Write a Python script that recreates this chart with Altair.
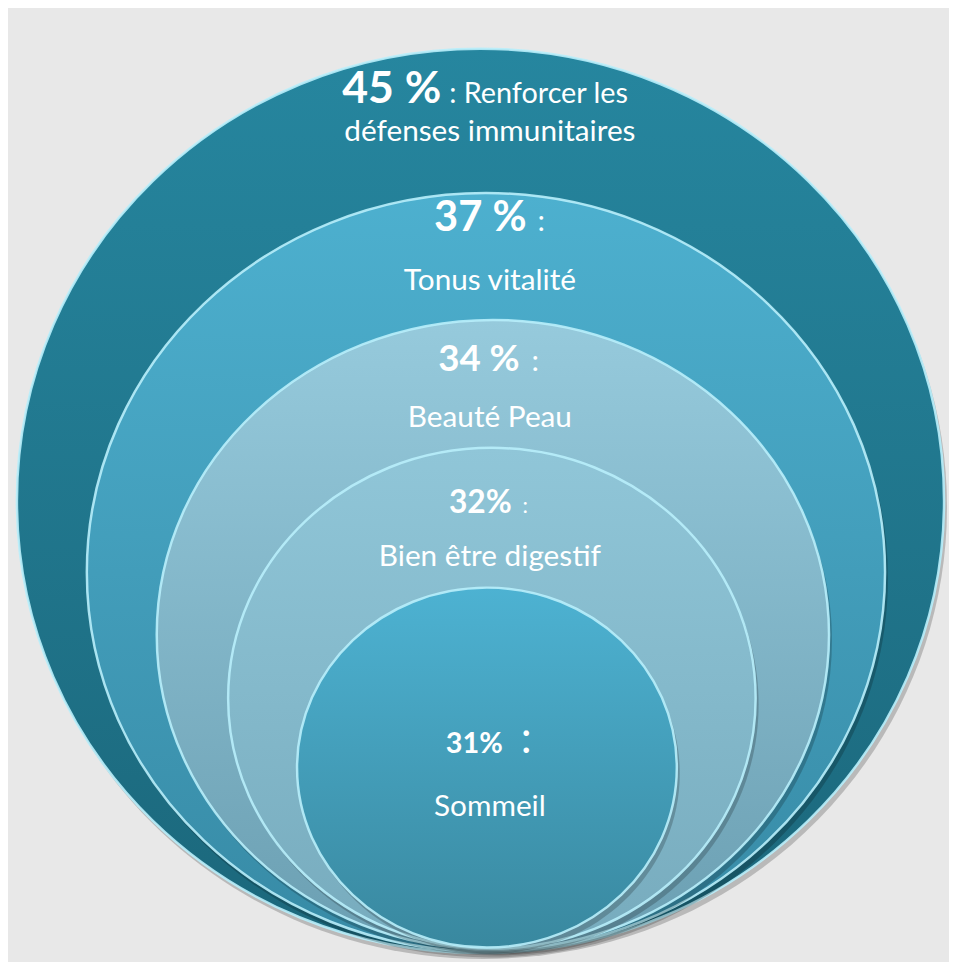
import altair as alt
import pandas as pd

# ---------------- data ----------------
pct_labels = ["45 %", "37 %", "34 %", "32%", "31%"]
values = [45, 37, 34, 32, 31]
line1_rest = [": Renforcer les", ":", ":", ":", ":"]
line2 = ["défenses immunitaires", "Tonus vitalité", "Beauté Peau",
         "Bien être digestif", "Sommeil"]

# ---------------- layout (chart pixel space) ----------------
W, H = 941, 946
circle_cx = [476.5, 482, 489, 488, 483]
circle_cy = [493, 565, 628, 692, 762]
circle_w = [935, 805, 678, 532, 383]
circle_h = [912, 765, 635, 505, 363]
grad_top = ["#26869f", "#4db0cf", "#96cadc", "#90c6d8", "#4db2d2"]
grad_bot = ["#1b677b", "#378aa5", "#6b9fb2", "#77abbd", "#39889f"]

pct_x = [437, 523, 516, 508, 499]
rest_x = [445, 534, 528, 519, 517]
line1_y = [92, 221, 362, 505, 747]
line2_y = [130, 280, 418, 559, 811]
pct_fs = [45, 42, 37, 32, 29]
rest_fs = [29, 30, 30, 22, 44]
line2_fs = [30, 30, 30, 30, 30]
center_x = 486

FONT = "Lato"

df = pd.DataFrame({
    "idx": list(range(5)),
    "value": values,
    "pct": pct_labels,
    "rest": line1_rest,
    "line2": line2,
    "cx": circle_cx,
    "cy": circle_cy,
    "px": pct_x,
    "rx": rest_x,
    "lx": [center_x] * 5,
    "y1": line1_y,
    "y2": line2_y,
    "pfs": pct_fs,
    "rfs": rest_fs,
    "lfs": line2_fs,
})

xs = alt.Scale(domain=[0, W], nice=False, zero=False)
ys = alt.Scale(domain=[0, H], nice=False, zero=False, reverse=True)


def ellipse_path(ratio):
    k = 0.5523
    r = ratio
    return (f"M 1 0 C 1 {k*r:.4f} {k:.4f} {r:.4f} 0 {r:.4f} "
            f"C {-k:.4f} {r:.4f} -1 {k*r:.4f} -1 0 "
            f"C -1 {-k*r:.4f} {-k:.4f} {-r:.4f} 0 {-r:.4f} "
            f"C {k:.4f} {-r:.4f} 1 {-k*r:.4f} 1 0 Z")


base = alt.Chart(df)
layers = []
for i in range(5):
    shape = ellipse_path(circle_h[i] / circle_w[i])
    size = circle_w[i] ** 2
    sub = base.transform_filter(alt.datum.idx == i)
    shadow = sub.mark_point(
        shape=shape, size=size, filled=True, fill="#000000",
        opacity=1, fillOpacity=0.2, strokeWidth=0, xOffset=3, yOffset=6,
    ).encode(
        x=alt.X("cx:Q", scale=xs, axis=None),
        y=alt.Y("cy:Q", scale=ys, axis=None),
    )
    body = sub.mark_point(
        shape=shape, size=size, filled=True, opacity=1, fillOpacity=1,
        fill=alt.LinearGradient(
            gradient="linear", x1=0, y1=0, x2=0, y2=1,
            stops=[alt.GradientStop(color=grad_top[i], offset=0),
                   alt.GradientStop(color=grad_bot[i], offset=1)]),
        stroke="#b8eefb", strokeWidth=2.5, strokeOpacity=0.9,
    ).encode(
        x=alt.X("cx:Q", scale=xs, axis=None),
        y=alt.Y("cy:Q", scale=ys, axis=None),
    )
    layers += [shadow, body]

pct_text = base.mark_text(
    font=FONT, fontWeight="bold", color="white", align="right",
    baseline="alphabetic",
).encode(
    x=alt.X("px:Q", scale=xs, axis=None),
    y=alt.Y("y1:Q", scale=ys, axis=None),
    text="pct:N",
    size=alt.Size("pfs:Q", scale=None, legend=None),
)
rest_text = base.mark_text(
    font=FONT, color="white", align="left", baseline="alphabetic",
).encode(
    x=alt.X("rx:Q", scale=xs, axis=None),
    y=alt.Y("y1:Q", scale=ys, axis=None),
    text="rest:N",
    size=alt.Size("rfs:Q", scale=None, legend=None),
)
line2_text = base.mark_text(
    font=FONT, color="white", align="center", baseline="alphabetic",
).encode(
    x=alt.X("lx:Q", scale=xs, axis=None),
    y=alt.Y("y2:Q", scale=ys, axis=None),
    text="line2:N",
    size=alt.Size("lfs:Q", scale=None, legend=None),
)

chart = alt.layer(*layers, pct_text, rest_text, line2_text).properties(
    width=W, height=H, padding=0, background="#e8e8e8",
).configure_view(stroke=None)

chart.save("out.html", embed_options={"renderer": "svg", "actions": False})
